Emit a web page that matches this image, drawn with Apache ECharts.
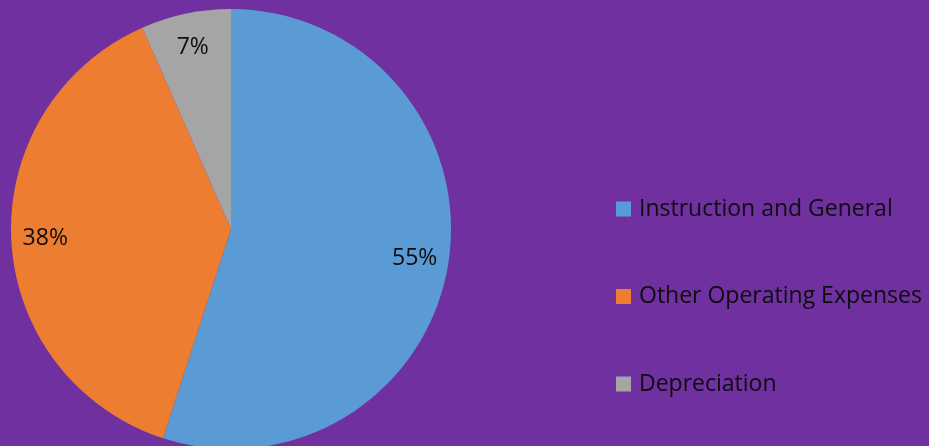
<!DOCTYPE html>
<html>
<head>
<meta charset="utf-8">
<script src="https://cdn.jsdelivr.net/npm/echarts@6/dist/echarts.min.js"></script>
<style>
html,body{margin:0;padding:0;background:#7030A0;}
#c{width:929px;height:446px;}
</style>
</head>
<body>
<div id="c"></div>
<script>
const categories = ["Instruction and General", "Other Operating Expenses", "Depreciation"];
const values = [55.0, 38.4, 6.6];
const colors = ["#5B9BD5", "#ED7D31", "#A5A5A5"];

const data = categories.map((name, i) => ({ name: name, value: values[i] }));
const chart = echarts.init(document.getElementById('c'));
chart.setOption({
  backgroundColor: '#7030A0',
  animation: false,
  color: colors,
  legend: {
    orient: 'vertical',
    left: 616,
    top: 197,
    padding: 0,
    itemWidth: 15,
    itemHeight: 15,
    itemGap: 63.5,
    icon: 'rect',
    textStyle: { fontFamily: 'Open Sans', fontSize: 23, lineHeight: 24, color: '#0d0d0d', padding: [0, 0, 0, 3] },
    data: categories
  },
  series: [
    {
      type: 'pie',
      center: [231, 229],
      radius: [0, 220],
      startAngle: 90,
      clockwise: true,
      label: { show: false },
      labelLine: { show: false },
      silent: true,
      data: data
    },
    {
      type: 'pie',
      center: [231, 229],
      radius: [146, 220],
      startAngle: 90,
      clockwise: true,
      silent: true,
      itemStyle: { color: 'rgba(0,0,0,0)' },
      label: {
        show: true,
        position: 'inside',
        fontFamily: 'Open Sans',
        fontSize: 23,
        color: '#0d0d0d',
        formatter: p => Math.round(p.percent) + '%'
      },
      labelLine: { show: false },
      legendHoverLink: false,
      data: data
    }
  ]
});
</script>
</body>
</html>
